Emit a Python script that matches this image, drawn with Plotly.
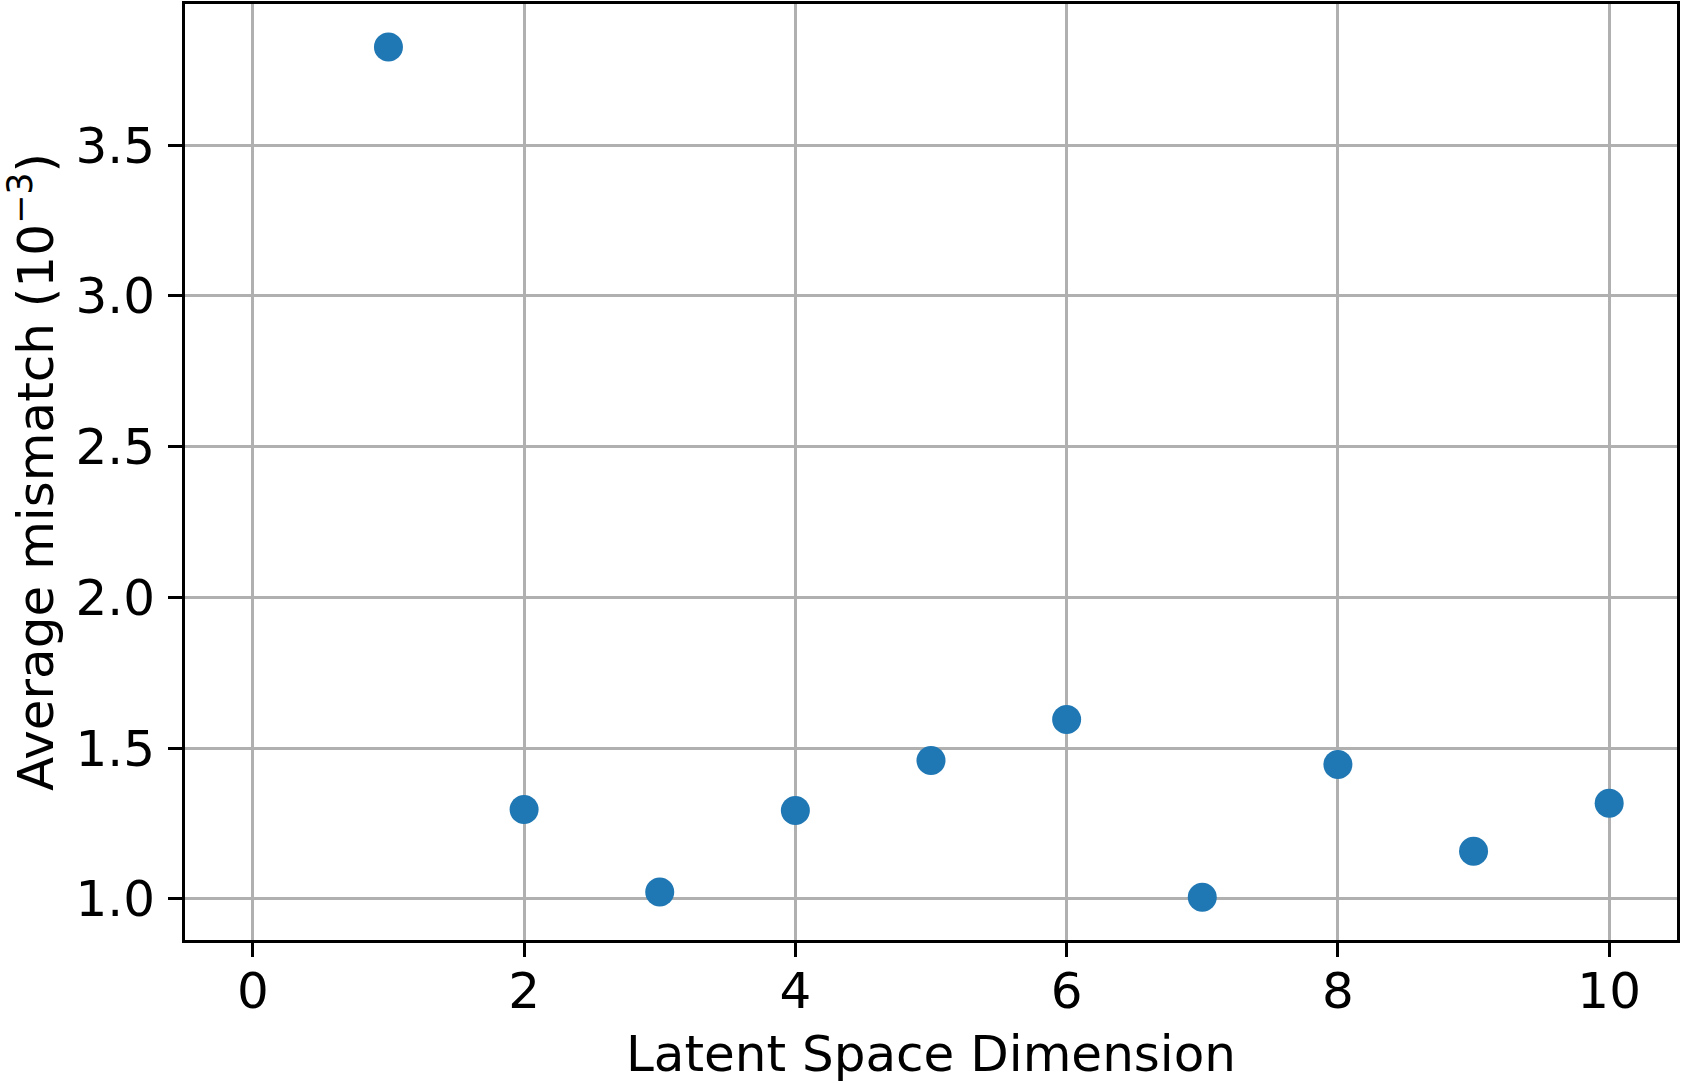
import plotly.graph_objects as go

dims = [1, 2, 3, 4, 5, 6, 7, 8, 9, 10]
mismatch = [3.825, 1.296, 1.023, 1.293, 1.459, 1.595, 1.005, 1.446, 1.158, 1.317]
xticks = [0, 2, 4, 6, 8, 10]
yticks = [1.0, 1.5, 2.0, 2.5, 3.0, 3.5]

FONT = "DejaVu Sans"
FS = 50

fig = go.Figure(
    go.Scatter(
        x=dims, y=mismatch, mode="markers",
        marker=dict(size=29, color="#1f77b4", line=dict(width=0)),
        showlegend=False,
    )
)

axis_common = dict(
    showline=True, linecolor="black", linewidth=3, mirror=True,
    showgrid=True, gridcolor="#b0b0b0", gridwidth=3,
    ticks="outside", ticklen=14, tickwidth=3, tickcolor="black",
    tickfont=dict(family=FONT, size=FS, color="black"),
    zeroline=False,
)

fig.update_xaxes(
    range=[-0.5, 10.5], tickvals=xticks, ticktext=[str(v) for v in xticks],
    ticklabelstandoff=-9,
    title=dict(text="Latent Space Dimension", font=dict(family=FONT, size=FS, color="black"), standoff=21),
    **axis_common,
)
fig.update_yaxes(
    range=[0.8635, 3.968], tickvals=yticks, ticktext=[f"{v:.1f}" for v in yticks],
    ticklabelstandoff=3,
    title=dict(text="Average mismatch (10<sup>−3</sup>)", font=dict(family=FONT, size=FS, color="black"), standoff=32),
    **axis_common,
)

fig.update_layout(
    width=1681, height=1083,
    margin=dict(l=185, r=3, t=1, b=143),
    plot_bgcolor="white", paper_bgcolor="white",
    font=dict(family=FONT, size=FS, color="black"),
)

fig.write_html(
    "out.html",
    config={"displayModeBar": False},
    post_script="document.body.style.margin='0px';",
)
